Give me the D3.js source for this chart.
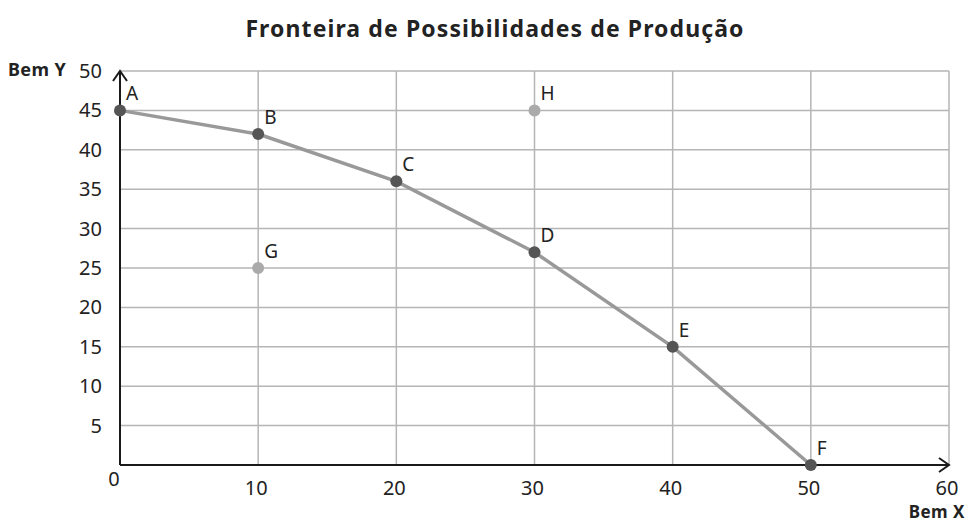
<!DOCTYPE html>
<html>
<head>
<meta charset="utf-8">
<script src="https://cdn.jsdelivr.net/npm/d3@7"></script>
<style>
  body { margin: 0; background: #fff; }
  text { font-family: "Noto Sans", "Open Sans", sans-serif; fill: #222; }
</style>
</head>
<body>
<script>
'use strict';

const width = 968;
const height = 524;

// frontier points
const frontierLabels = ['A', 'B', 'C', 'D', 'E', 'F'];
const frontierX = [0, 10, 20, 30, 40, 50];
const frontierY = [45, 42, 36, 27, 15, 0];

// points off the frontier
const otherLabels = ['G', 'H'];
const otherX = [10, 30];
const otherY = [25, 45];

const xTicks = [10, 20, 30, 40, 50, 60];
const yTicks = [5, 10, 15, 20, 25, 30, 35, 40, 45, 50];

const margin = { left: 120, right: 19, top: 71, bottom: 59 };

let x = d3.scaleLinear().domain([0, 60]).range([margin.left, width - margin.right]);
let y = d3.scaleLinear().domain([0, 50]).range([height - margin.bottom, margin.top]);

let svg = d3.select('body').append('svg')
    .attr('width', width)
    .attr('height', height);

svg.append('text')
    .attr('x', 495)
    .attr('y', 37)
    .attr('text-anchor', 'middle')
    .style('font-size', '23px')
    .style('font-weight', 'bold')
    .style('letter-spacing', '1.1px')
    .text('Fronteira de Possibilidades de Produção');

// grid
svg.append('g').selectAll('line')
    .data(yTicks).enter()
    .append('line')
    .attr('x1', x(0)).attr('x2', x(60))
    .attr('y1', d => y(d)).attr('y2', d => y(d))
    .style('stroke', '#b5b5b5').style('stroke-width', 1.5);

svg.append('g').selectAll('line')
    .data(xTicks).enter()
    .append('line')
    .attr('x1', d => x(d)).attr('x2', d => x(d))
    .attr('y1', y(0)).attr('y2', y(50))
    .style('stroke', '#b5b5b5').style('stroke-width', 1.5);

// axes with arrows
let axisG = svg.append('g').style('stroke', '#1a1a1a').style('stroke-width', 2).style('fill', 'none');
axisG.append('line').attr('x1', x(0)).attr('x2', x(60)).attr('y1', y(0)).attr('y2', y(0));
axisG.append('line').attr('x1', x(0)).attr('x2', x(0)).attr('y1', y(0)).attr('y2', y(50));
axisG.append('path')
    .attr('d', `M${x(60) - 10},${y(0) - 7}L${x(60)},${y(0)}L${x(60) - 10},${y(0) + 7}`);
axisG.append('path')
    .attr('d', `M${x(0) - 7},${y(50) + 10}L${x(0)},${y(50)}L${x(0) + 7},${y(50) + 10}`);

// tick labels
svg.append('g').selectAll('text')
    .data(yTicks).enter()
    .append('text')
    .attr('x', 102)
    .attr('y', d => y(d) + 7)
    .attr('text-anchor', 'end')
    .style('font-size', '20px')
    .text(d => d);

svg.append('g').selectAll('text')
    .data(xTicks).enter()
    .append('text')
    .attr('x', d => x(d) - 2)
    .attr('y', y(0) + 30)
    .attr('text-anchor', 'middle')
    .style('font-size', '20px')
    .text(d => d);

svg.append('text')
    .attr('x', x(0) - 6)
    .attr('y', y(0) + 21)
    .attr('text-anchor', 'middle')
    .style('font-size', '20px')
    .text('0');

svg.append('text')
    .attr('x', 8)
    .attr('y', 76)
    .style('font-size', '18px')
    .style('font-weight', 'bold')
    .style('letter-spacing', '0.4px')
    .text('Bem Y');

svg.append('text')
    .attr('x', 965)
    .attr('y', 518)
    .attr('text-anchor', 'end')
    .style('font-size', '17px')
    .style('font-weight', 'bold')
    .style('letter-spacing', '0.5px')
    .text('Bem X');

// frontier line
let frontier = frontierX.map((d, i) => ({ x: d, y: frontierY[i], label: frontierLabels[i] }));
let others = otherX.map((d, i) => ({ x: d, y: otherY[i], label: otherLabels[i] }));

let line = d3.line().x(d => x(d.x)).y(d => y(d.y));

svg.append('path')
    .datum(frontier)
    .attr('d', line)
    .style('fill', 'none')
    .style('stroke', '#999')
    .style('stroke-width', 3.5);

svg.append('g').selectAll('circle')
    .data(frontier).enter()
    .append('circle')
    .attr('cx', d => x(d.x)).attr('cy', d => y(d.y))
    .attr('r', 6)
    .style('fill', '#555');

svg.append('g').selectAll('circle')
    .data(others).enter()
    .append('circle')
    .attr('cx', d => x(d.x)).attr('cy', d => y(d.y))
    .attr('r', 6)
    .style('fill', '#aaa');

svg.append('g').selectAll('text')
    .data(frontier.concat(others)).enter()
    .append('text')
    .attr('x', d => x(d.x) + 6)
    .attr('y', d => y(d.y) - 10)
    .style('font-size', '19px')
    .text(d => d.label);
</script>
</body>
</html>
